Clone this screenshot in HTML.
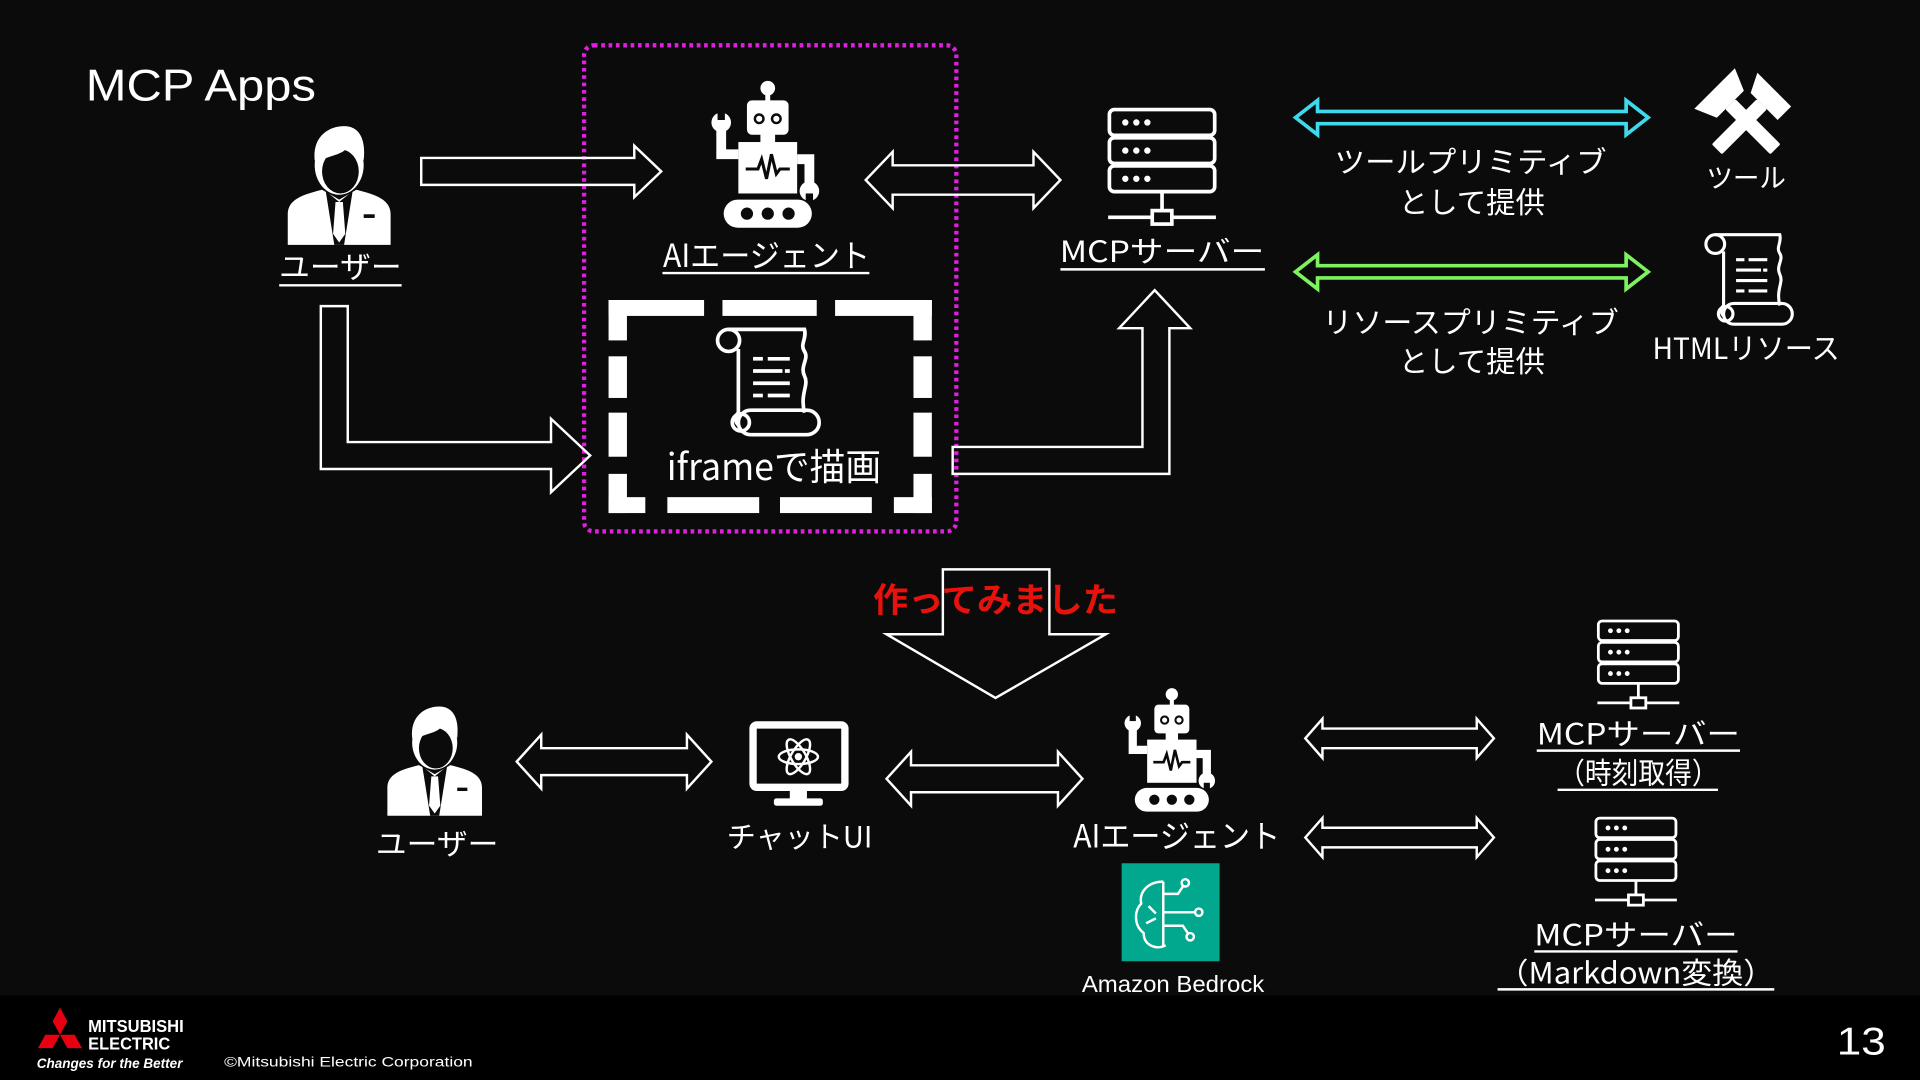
<!DOCTYPE html>
<html><head><meta charset="utf-8"><style>
html,body{margin:0;padding:0;background:#0b0b0b;}
svg{display:block;}
text{font-family:"Liberation Sans","Noto Sans CJK JP",sans-serif;fill:#fff;}
.jp{font-family:"Noto Sans CJK JP","Liberation Sans",sans-serif;}
</style></head><body>
<svg width="1920" height="1080" viewBox="0 0 1568 882" xmlns="http://www.w3.org/2000/svg">
<defs>
<g id="robot">
  <circle cx="0" cy="6" r="6" fill="#fff"/>
  <rect x="-2" y="6" width="4" height="12" fill="#fff"/>
  <rect x="-17" y="16" width="34" height="28" rx="4" fill="#fff"/>
  <circle cx="-7" cy="31" r="3.5" fill="none" stroke="#0b0b0b" stroke-width="2"/>
  <circle cx="7" cy="31" r="3.5" fill="none" stroke="#0b0b0b" stroke-width="2"/>
  <rect x="-6" y="43" width="12" height="8" fill="#fff"/>
  <rect x="-24" y="50" width="48" height="42" fill="#fff"/>
  <polyline points="-18,72 -8,72 -5,64 -1,80 3,60 7,76 10,72 18,72" fill="none" stroke="#0b0b0b" stroke-width="2.5"/>
  <path d="M-24,60 H-38 V40" fill="none" stroke="#fff" stroke-width="8"/>
  <circle cx="-38" cy="34" r="8" fill="#fff"/>
  <rect x="-41" y="24" width="6" height="8" fill="#0b0b0b"/>
  <path d="M24,64 H34 V84" fill="none" stroke="#fff" stroke-width="8"/>
  <circle cx="34" cy="90" r="8" fill="#fff"/>
  <rect x="31" y="92" width="6" height="8" fill="#0b0b0b"/>
  <rect x="-36" y="97" width="72" height="23" rx="11.5" fill="#fff"/>
  <circle cx="-17" cy="108.5" r="5" fill="#0b0b0b"/>
  <circle cx="0" cy="108.5" r="5" fill="#0b0b0b"/>
  <circle cx="17" cy="108.5" r="5" fill="#0b0b0b"/>
</g>
<g id="server" fill="none" stroke="#fff" stroke-width="3">
  <rect x="-43" y="1.5" width="86" height="21" rx="4"/>
  <rect x="-43" y="24.5" width="86" height="21" rx="4"/>
  <rect x="-43" y="47.5" width="86" height="21" rx="4"/>
  <g fill="#fff" stroke="none">
    <circle cx="-30" cy="12" r="2.6"/><circle cx="-21" cy="12" r="2.6"/><circle cx="-12" cy="12" r="2.6"/>
    <circle cx="-30" cy="35" r="2.6"/><circle cx="-21" cy="35" r="2.6"/><circle cx="-12" cy="35" r="2.6"/>
    <circle cx="-30" cy="58" r="2.6"/><circle cx="-21" cy="58" r="2.6"/><circle cx="-12" cy="58" r="2.6"/>
  </g>
  <line x1="0" y1="69" x2="0" y2="84"/>
  <rect x="-8" y="84" width="16" height="11"/>
  <line x1="-44" y1="89.5" x2="-8" y2="89.5"/>
  <line x1="8" y1="89.5" x2="44" y2="89.5"/>
</g>
<g id="user">
  <path d="M-42,97 V72 C-42,60 -30,56 -14,52 L0,60 L14,52 C30,56 42,60 42,72 V97 Z" fill="#fff"/>
  <path d="M-11,53 L0,62 L11,53 L4,97 H-4 Z" fill="#0b0b0b"/>
  <path d="M-3,62 H3 L5,88 L0,95 L-5,88 Z" fill="#fff"/>
  <rect x="20" y="72" width="9" height="3" fill="#0b0b0b"/>
  <ellipse cx="0" cy="32" rx="20" ry="24" fill="#fff"/>
  <ellipse cx="1" cy="37" rx="15" ry="18" fill="#0b0b0b"/>
  <path d="M-20,28 C-22,8 -8,0 4,0 C16,0 22,10 20,28 C16,20 10,16 6,18 C2,24 -10,24 -18,30 Z" fill="#fff"/>
</g>
<g id="scroll" fill="none" stroke="#fff" stroke-width="3">
  <circle cx="-32" cy="11" r="9"/>
  <path d="M-32,2 H30 C32,10 26,14 30,20 C34,26 26,32 30,40 C34,48 26,54 30,70"/>
  <path d="M-24,18 V70 C-28,74 -26,78 -24,80"/>
  <rect x="-24" y="68" width="66" height="20" rx="10"/>
  <circle cx="-22" cy="78" r="7"/>
  <line x1="-12" y1="26" x2="-4" y2="26"/><line x1="0" y1="26" x2="18" y2="26"/>
  <line x1="-12" y1="36" x2="12" y2="36"/><line x1="14" y1="36" x2="18" y2="36"/>
  <line x1="-12" y1="46" x2="18" y2="46"/>
  <line x1="-12" y1="56" x2="-4" y2="56"/><line x1="0" y1="56" x2="18" y2="56"/>
</g>
</defs>

<rect width="1568" height="882" fill="#0b0b0b"/>
<rect y="813" width="1568" height="69" fill="#000"/>

<text x="70" y="82" font-size="36" textLength="188" lengthAdjust="spacingAndGlyphs">MCP Apps</text>

<use href="#user" transform="translate(277,103)"/>
<text class="jp" x="278" y="227" font-size="25" text-anchor="middle" textLength="100" lengthAdjust="spacingAndGlyphs">ユーザー</text>
<line x1="228" y1="233" x2="328" y2="233" stroke="#fff" stroke-width="2"/>

<rect x="477" y="37" width="304" height="397" rx="8" fill="none" stroke="#e01ee0" stroke-width="3.5" stroke-dasharray="3 3"/>

<polygon points="344,129 518,129 518,119 540,140 518,161 518,151 344,151" fill="none" stroke="#fff" stroke-width="2"/>
<polygon points="707,147 729,124 729,135 844,135 844,124 866,147 844,170 844,159 729,159 729,170" fill="none" stroke="#fff" stroke-width="2"/>
<polygon points="262,250 284,250 284,361 450,361 450,342 482,372 450,402 450,383 262,383" fill="none" stroke="#fff" stroke-width="2"/>
<polygon points="778,365 933,365 933,268 914,268 943,237 972,268 955,268 955,387 778,387" fill="none" stroke="#fff" stroke-width="2"/>

<use href="#robot" transform="translate(627,66)"/>
<text class="jp" x="626" y="218" font-size="26" text-anchor="middle" textLength="169" lengthAdjust="spacingAndGlyphs">AIエージェント</text>
<line x1="541" y1="223" x2="710" y2="223" stroke="#fff" stroke-width="2"/>

<g fill="#fff">
  <rect x="497" y="245" width="78" height="13"/><rect x="590" y="245" width="77" height="13"/><rect x="682" y="245" width="79" height="13"/>
  <rect x="497" y="245" width="15" height="33"/><rect x="497" y="291" width="15" height="34"/><rect x="497" y="337" width="15" height="36"/><rect x="497" y="387" width="15" height="32"/>
  <rect x="746" y="245" width="15" height="33"/><rect x="746" y="291" width="15" height="34"/><rect x="746" y="337" width="15" height="36"/><rect x="746" y="387" width="15" height="32"/>
  <rect x="497" y="406" width="30" height="13"/><rect x="545" y="406" width="75" height="13"/><rect x="637" y="406" width="75" height="13"/><rect x="730" y="406" width="31" height="13"/>
</g>
<use href="#scroll" transform="translate(627,267)"/>
<text class="jp" x="632" y="392" font-size="30" text-anchor="middle" textLength="175" lengthAdjust="spacingAndGlyphs">iframeで描画</text>

<use href="#server" transform="translate(949,88)"/>
<text class="jp" x="949" y="214" font-size="24" text-anchor="middle" textLength="167" lengthAdjust="spacingAndGlyphs">MCPサーバー</text>
<line x1="866" y1="220" x2="1033" y2="220" stroke="#fff" stroke-width="2"/>

<polygon points="1058,96 1076,82 1076,91 1328,91 1328,82 1346,96 1328,110 1328,101 1076,101 1076,110" fill="none" stroke="#3fd9ec" stroke-width="3"/>
<polygon points="1058,222 1076,208 1076,217 1328,217 1328,208 1346,222 1328,236 1328,227 1076,227 1076,236" fill="none" stroke="#7ef25e" stroke-width="3"/>
<text class="jp" x="1201" y="141" font-size="24" text-anchor="middle" textLength="222" lengthAdjust="spacingAndGlyphs">ツールプリミティブ</text>
<text class="jp" x="1202" y="174" font-size="24" text-anchor="middle">として提供</text>
<text class="jp" x="1201" y="272" font-size="24" text-anchor="middle" textLength="242" lengthAdjust="spacingAndGlyphs">リソースプリミティブ</text>
<text class="jp" x="1202" y="304" font-size="24" text-anchor="middle">として提供</text>

<g fill="#fff" transform="translate(1426,98) scale(1.3)">
  <g transform="rotate(45)"><rect x="-4.5" y="-14" width="9" height="40" rx="1"/><path d="M-16,-26 L14,-26 L14,-14 L-10,-14 Z"/></g>
  <g transform="rotate(-45)"><rect x="-4.5" y="-14" width="9" height="40" rx="1"/><path d="M-18,-28 H18 L12,-14 H-12 Z"/></g>
</g>
<text class="jp" x="1426" y="153" font-size="22" text-anchor="middle" textLength="65" lengthAdjust="spacingAndGlyphs">ツール</text>
<use href="#scroll" transform="translate(1428,190) scale(0.85)"/>
<text class="jp" x="1426" y="293" font-size="24" text-anchor="middle" textLength="153" lengthAdjust="spacingAndGlyphs">HTMLリソース</text>

<polygon points="770,465 857,465 857,518 903,518 813,570 724,518 770,518" fill="none" stroke="#fff" stroke-width="2"/>
<text class="jp" x="813" y="500" font-size="28" font-weight="bold" text-anchor="middle" textLength="200" lengthAdjust="spacingAndGlyphs" style="fill:#e8120c">作ってみました</text>

<use href="#user" transform="translate(355,577) scale(0.92)"/>
<text class="jp" x="357" y="698" font-size="24" text-anchor="middle" textLength="100" lengthAdjust="spacingAndGlyphs">ユーザー</text>
<polygon points="422,622 442,600 442,611 561,611 561,600 581,622 561,644 561,633 442,633 442,644" fill="none" stroke="#fff" stroke-width="2"/>

<g>
  <rect x="615" y="592" width="75" height="51" rx="3" fill="none" stroke="#fff" stroke-width="6"/>
  <rect x="645" y="645" width="14" height="9" fill="#fff"/>
  <rect x="632" y="652" width="40" height="6" rx="2" fill="#fff"/>
  <g fill="none" stroke="#fff" stroke-width="2" transform="translate(652,618)">
    <ellipse rx="16" ry="6"/><ellipse rx="16" ry="6" transform="rotate(60)"/><ellipse rx="16" ry="6" transform="rotate(-60)"/>
  </g>
  <circle cx="652" cy="618" r="3" fill="#fff"/>
</g>
<text class="jp" x="653" y="692" font-size="24" text-anchor="middle" textLength="119" lengthAdjust="spacingAndGlyphs">チャットUI</text>
<polygon points="724,636 744,614 744,625 864,625 864,614 884,636 864,658 864,647 744,647 744,658" fill="none" stroke="#fff" stroke-width="2"/>

<use href="#robot" transform="translate(957,562) scale(0.84)"/>
<text class="jp" x="961" y="692" font-size="26" text-anchor="middle" textLength="169" lengthAdjust="spacingAndGlyphs">AIエージェント</text>

<rect x="916" y="705" width="80" height="80" fill="#01a88d"/>
<g fill="none" stroke="#fff" stroke-width="2">
  <path d="M950,720 C938,720 930,728 932,738 C926,744 926,756 934,762 C934,772 944,776 952,772"/>
  <path d="M950,720 V772"/>
  <path d="M950,730 H962 L966,724"/><circle cx="968" cy="721" r="3"/>
  <path d="M950,745 H976"/><circle cx="979" cy="745" r="3"/>
  <path d="M950,756 H966 L970,762"/><circle cx="972" cy="765" r="3"/>
  <path d="M938,740 L944,746 M936,754 L944,750"/>
</g>
<text x="958" y="810" font-size="19" text-anchor="middle" textLength="149" lengthAdjust="spacingAndGlyphs">Amazon Bedrock</text>

<polygon points="1066,603 1080,587 1080,595 1206,595 1206,587 1220,603 1206,619 1206,611 1080,611 1080,619" fill="none" stroke="#fff" stroke-width="2"/>
<polygon points="1066,684 1080,668 1080,676 1206,676 1206,668 1220,684 1206,700 1206,692 1080,692 1080,700" fill="none" stroke="#fff" stroke-width="2"/>

<use href="#server" transform="translate(1338,506) scale(0.76)"/>
<text class="jp" x="1338" y="608" font-size="24" text-anchor="middle" textLength="166" lengthAdjust="spacingAndGlyphs">MCPサーバー</text>
<line x1="1255" y1="613" x2="1421" y2="613" stroke="#fff" stroke-width="2"/>
<text class="jp" x="1338" y="640" font-size="24" text-anchor="middle" textLength="131" lengthAdjust="spacingAndGlyphs">（時刻取得）</text>
<line x1="1272" y1="645" x2="1403" y2="645" stroke="#fff" stroke-width="2"/>

<use href="#server" transform="translate(1336,667) scale(0.76)"/>
<text class="jp" x="1336" y="772" font-size="24" text-anchor="middle" textLength="166" lengthAdjust="spacingAndGlyphs">MCPサーバー</text>
<line x1="1253" y1="777" x2="1419" y2="777" stroke="#fff" stroke-width="2"/>
<text class="jp" x="1336" y="803" font-size="24" text-anchor="middle" textLength="226" lengthAdjust="spacingAndGlyphs">（Markdown変換）</text>
<line x1="1223" y1="808" x2="1449" y2="808" stroke="#fff" stroke-width="2"/>

<g fill="#e60012">
  <polygon points="49,823 55,834 49,845 43,834"/>
  <polygon points="49,845 37,845 31,856 43,856"/>
  <polygon points="49,845 61,845 67,856 55,856"/>
</g>
<text x="72" y="843" font-size="14" font-weight="bold" textLength="78" lengthAdjust="spacingAndGlyphs">MITSUBISHI</text>
<text x="72" y="857" font-size="14" font-weight="bold" textLength="67" lengthAdjust="spacingAndGlyphs">ELECTRIC</text>
<text x="30" y="872" font-size="11" font-weight="bold" font-style="italic" textLength="119" lengthAdjust="spacingAndGlyphs">Changes for the Better</text>
<text x="183" y="871" font-size="11" textLength="203" lengthAdjust="spacingAndGlyphs">©Mitsubishi Electric Corporation</text>
<text x="1500" y="861" font-size="32" textLength="40" lengthAdjust="spacingAndGlyphs">13</text>
</svg>
</body></html>
